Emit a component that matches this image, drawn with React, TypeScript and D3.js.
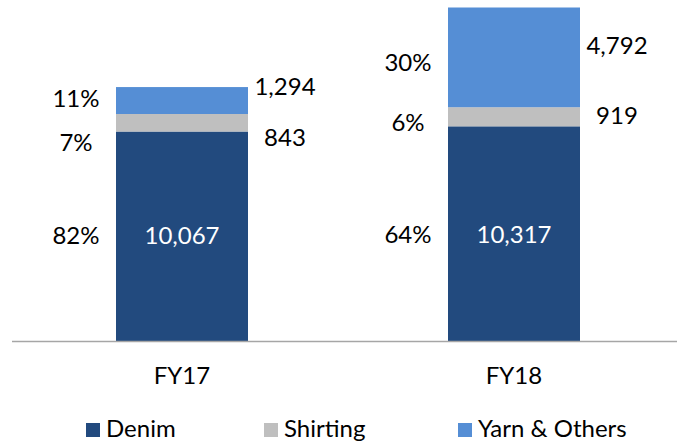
import React from "react";
import * as d3 from "d3";

const categories = ["FY17", "FY18"];
const seriesNames = ["Denim", "Shirting", "Yarn & Others"];
const denim = [10067, 10317];
const shirting = [843, 919];
const yarn = [1294, 4792];
const colors = ["#224A7E", "#BFBFBF", "#558ED5"];

const W = 677;
const H = 444;
const FONT = "Lato, 'Open Sans', sans-serif";
const FS = 24;

// manual label nudges (px) per category, per series, relative to segment centre
const pctNudge = [
  [2, 22, 0],
  [3, 8, 8],
];
const valNudge = [
  [2, 17, -12],
  [3, 1, -9],
];

export default function App() {
  const baseY = 341;
  const y = d3.scaleLinear().domain([0, 16100]).range([baseY, 6]);
  const x = d3.scalePoint().domain(categories).range([182, 514]);

  const rows = categories.map((c, i) => ({
    cat: c,
    Denim: denim[i],
    Shirting: shirting[i],
    "Yarn & Others": yarn[i],
  }));
  const stack = d3.stack<any>().keys(seriesNames)(rows);
  const bw = 132;

  return (
    <svg width={W} height={H} style={{ position: "absolute", left: 0, top: 0 }}>
      <rect width={W} height={H} fill="#fff" />
      {stack.map((s, si) =>
        s.map((d, ci) => {
          const cx = x(categories[ci]) as number;
          const y0 = y(d[0]);
          const y1 = y(d[1]);
          const total = denim[ci] + shirting[ci] + yarn[ci];
          const pct = Math.round(((d[1] - d[0]) / total) * 100);
          const mid = (y0 + y1) / 2;
          const val = d3.format(",")(d[1] - d[0]);
          return (
            <g key={`${si}-${ci}`}>
              <rect x={cx - bw / 2} y={y1} width={bw} height={y0 - y1} fill={colors[si]} />
              <text
                x={cx - bw / 2 - 40}
                y={mid + pctNudge[ci][si]}
                textAnchor="middle"
                dominantBaseline="middle"
                fontFamily={FONT}
                fontSize={FS}
                fill="#000"
              >
                {pct}%
              </text>
              {si === 0 ? (
                <text
                  x={cx}
                  y={mid + valNudge[ci][si]}
                  textAnchor="middle"
                  dominantBaseline="middle"
                  fontFamily={FONT}
                  fontSize={FS}
                  fill="#fff"
                >
                  {val}
                </text>
              ) : (
                <text
                  x={cx + bw / 2 + 37}
                  y={mid + valNudge[ci][si]}
                  textAnchor="middle"
                  dominantBaseline="middle"
                  fontFamily={FONT}
                  fontSize={FS}
                  fill="#000"
                >
                  {val}
                </text>
              )}
            </g>
          );
        })
      )}
      <line x1={12} x2={W} y1={baseY + 0.5} y2={baseY + 0.5} stroke="#A6A6A6" strokeWidth={1.5} />
      {categories.map((c) => (
        <text
          key={c}
          x={x(c) as number}
          y={378}
          textAnchor="middle"
          dominantBaseline="middle"
          fontFamily={FONT}
          fontSize={FS}
          fill="#000"
        >
          {c}
        </text>
      ))}
      {seriesNames.map((n, i) => {
        const lx = [86, 264, 458][i];
        return (
          <g key={n}>
            <rect x={lx} y={423} width={14} height={14} fill={colors[i]} />
            <text x={lx + 20} y={431} dominantBaseline="middle" fontFamily={FONT} fontSize={FS} fill="#000">
              {n}
            </text>
          </g>
        );
      })}
    </svg>
  );
}
